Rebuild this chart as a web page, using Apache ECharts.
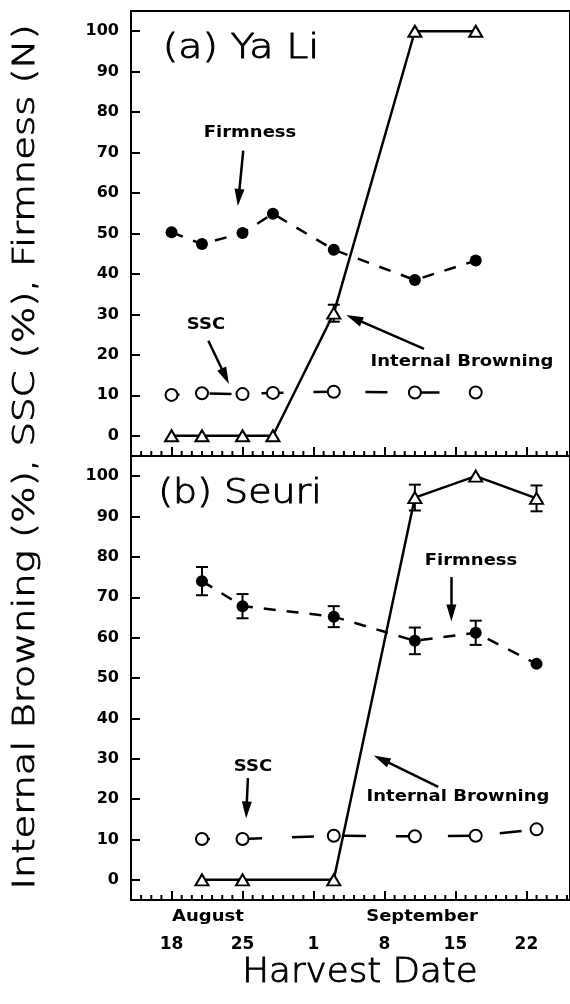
<!DOCTYPE html>
<html>
<head>
<meta charset="utf-8">
<script src="https://cdn.jsdelivr.net/npm/echarts@6/dist/echarts.min.js"></script>
<style>
    html, body { margin: 0; padding: 0; background: #fff; }
    #chart { width: 570px; height: 1004px; }
</style>
</head>
<body>
<div id="chart"></div>
<script>
    // days counted from August 18
    var tickDays = [0, 7, 14, 21, 28, 35];
    var tickLabels = ['18', '25', '1', '8', '15', '22'];
    var yTicks = [0, 10, 20, 30, 40, 50, 60, 70, 80, 90, 100];

    // (a) Ya Li
    var daysA = [0, 3, 7, 10, 16, 24, 30];
    var firmA = [50.3, 47.4, 50.1, 54.9, 46.0, 38.5, 43.3];
    var sscA = [10.1, 10.5, 10.3, 10.6, 10.9, 10.7, 10.7];
    var ibA = [0, 0, 0, 0, 30.3, 100, 100];
    var ibErrA = [0, 0, 0, 0, 2.1, 0, 0];

    // (b) Seuri
    var daysB = [3, 7, 16, 24, 30, 36];
    var firmB = [74.0, 67.8, 65.2, 59.2, 61.2, 53.5];
    var firmErrB = [3.5, 3.0, 2.6, 3.3, 3.0, 0];
    var sscB = [10.1, 10.1, 10.9, 10.8, 10.9, 12.5];
    var ibB = [0, 0, 0, 94.7, 100, 94.5];
    var ibErrB = [0, 0, 0, 3.2, 0, 3.2];

    // arrows [fromDay, fromVal, toDay, toVal]
    var arrowsA = [[7.07, 70.5, 6.62, 58.9], [3.63, 23.5, 5.30, 14.7], [24.9, 21.5, 18.0, 29.0]];
    var arrowsB = [[27.6, 75.0, 27.6, 66.1], [7.53, 25.2, 7.39, 17.3], [26.3, 23.0, 20.7, 29.9]];

    var minorDays = [];
    for (var d = -3; d <= 39; d++) if (tickDays.indexOf(d) < 0) minorDays.push(d);

    var BOLD = 'bold 15px "DejaVu Sans"';
    var LIGHT = '300 33px "DejaVu Sans"';
    var Y_MIN = -5, Y_MAX = 105;

    function pairs(xs, ys) {
        return xs.map(function (x, i) { return [x, ys[i]]; });
    }
    function errs(xs, ys, es) {
        var out = [];
        xs.forEach(function (x, i) { if (es[i] > 0) out.push([x, ys[i], es[i]]); });
        return out;
    }
    function arrowLines(list) {
        return list.map(function (a) {
            return [{ coord: [a[0], a[1]] }, { coord: [a[2], a[3]] }];
        });
    }

    function xAxis(grid, labels) {
        return {
            type: 'value', gridIndex: grid, position: 'bottom', min: -4, max: 39.3,
            axisLine: { onZero: false, lineStyle: { color: '#000', width: 2 } },
            axisTick: { inside: true, length: 9, customValues: tickDays, lineStyle: { color: '#000', width: 2 } },
            axisLabel: {
                show: labels, customValues: tickDays, margin: 36,
                color: '#000', fontFamily: 'DejaVu Sans', fontWeight: 'bold', fontSize: 17,
                formatter: function (v) { return tickLabels[tickDays.indexOf(v)]; }
            },
            splitLine: { show: false }
        };
    }

    function yAxis(grid) {
        return {
            type: 'value', gridIndex: grid, min: Y_MIN, max: Y_MAX,
            axisLine: { onZero: false, lineStyle: { color: '#000', width: 2 } },
            axisTick: { inside: true, length: 9, customValues: yTicks, lineStyle: { color: '#000', width: 2 } },
            axisLabel: {
                customValues: yTicks, margin: 12, color: '#000',
                fontFamily: 'DejaVu Sans', fontWeight: 'bold', fontSize: 16
            },
            splitLine: { show: false }
        };
    }

    // daily minor ticks on the date axis
    function minorTickSeries(idx) {
        return {
            type: 'custom', xAxisIndex: idx, yAxisIndex: idx, z: 5, silent: true,
            data: minorDays.map(function (d) { return [d, Y_MIN]; }),
            encode: { x: 0, y: 1 },
            renderItem: function (params, api) {
                var p = api.coord([api.value(0), Y_MIN]);
                return {
                    type: 'line', shape: { x1: p[0], y1: p[1], x2: p[0], y2: p[1] - 5 },
                    style: { stroke: '#000', lineWidth: 2 }
                };
            }
        };
    }

    function errorSeries(idx, data) {
        return {
            type: 'custom', xAxisIndex: idx, yAxisIndex: idx, z: 1, silent: true,
            data: data,
            encode: { x: 0, y: 1 },
            renderItem: function (params, api) {
                var x = api.value(0), y = api.value(1), e = api.value(2);
                var t = api.coord([x, y + e]), b = api.coord([x, y - e]);
                var w = 6, st = { stroke: '#000', lineWidth: 2 };
                return {
                    type: 'group', children: [
                        { type: 'line', shape: { x1: t[0], y1: t[1], x2: b[0], y2: b[1] }, style: st },
                        { type: 'line', shape: { x1: t[0] - w, y1: t[1], x2: t[0] + w, y2: t[1] }, style: st },
                        { type: 'line', shape: { x1: b[0] - w, y1: b[1], x2: b[0] + w, y2: b[1] }, style: st }
                    ]
                };
            }
        };
    }

    function firmSeries(idx, data) {
        return {
            type: 'line', xAxisIndex: idx, yAxisIndex: idx, data: data, z: 3,
            symbol: 'circle', symbolSize: 12,
            itemStyle: { color: '#000' },
            lineStyle: { color: '#000', width: 2.5, type: [12, 11] }
        };
    }
    function sscSeries(idx, data) {
        return {
            type: 'line', xAxisIndex: idx, yAxisIndex: idx, data: data, z: 3,
            symbol: 'circle', symbolSize: 12,
            itemStyle: { color: '#fff', borderColor: '#000', borderWidth: 2 },
            lineStyle: { color: '#000', width: 2.5, type: [22, 30], dashOffset: 14 }
        };
    }
    function ibSeries(idx, data, arrows) {
        return {
            type: 'line', xAxisIndex: idx, yAxisIndex: idx, data: data, z: 4,
            symbol: 'triangle', symbolSize: [13, 11],
            itemStyle: { color: '#fff', borderColor: '#000', borderWidth: 2 },
            lineStyle: { color: '#000', width: 2.5 },
            markLine: {
                silent: true, symbol: ['none', 'triangle'], symbolSize: [10, 17],
                label: { show: false },
                lineStyle: { color: '#000', width: 2.5, type: 'solid' },
                itemStyle: { color: '#000' },
                data: arrowLines(arrows)
            }
        };
    }

    function txt(x, y, text, font, sx, thick) {
        var st = { text: text, font: font, fill: '#000', textAlign: 'center', textVerticalAlign: 'middle' };
        if (thick) { st.stroke = '#000'; st.lineWidth = thick; }
        return { type: 'text', x: x, y: y, scaleX: sx || 1, silent: true, style: st };
    }

    var chart = echarts.init(document.getElementById('chart'));
    chart.setOption({
        animation: false,
        grid: [
            { left: 131, top: 11, right: -2, height: 445, show: true, borderColor: '#000', borderWidth: 2 },
            { left: 131, top: 456, right: -2, height: 444, show: true, borderColor: '#000', borderWidth: 2 }
        ],
        xAxis: [xAxis(0, false), xAxis(1, true)],
        yAxis: [yAxis(0), yAxis(1)],
        series: [
            minorTickSeries(0),
            errorSeries(0, errs(daysA, ibA, ibErrA)),
            firmSeries(0, pairs(daysA, firmA)),
            sscSeries(0, pairs(daysA, sscA)),
            ibSeries(0, pairs(daysA, ibA), arrowsA),
            minorTickSeries(1),
            errorSeries(1, errs(daysB, firmB, firmErrB)),
            errorSeries(1, errs(daysB, ibB, ibErrB)),
            firmSeries(1, pairs(daysB, firmB)),
            sscSeries(1, pairs(daysB, sscB)),
            ibSeries(1, pairs(daysB, ibB), arrowsB)
        ],
        graphic: [
            txt(241, 49, '(a) Ya Li', LIGHT, 1.2, 0.9),
            txt(240, 494, '(b) Seuri', LIGHT, 1.15, 0.9),
            txt(250, 133, 'Firmness', BOLD, 1.2),
            txt(206, 325, 'SSC', BOLD, 1.2),
            txt(462, 362, 'Internal Browning', BOLD, 1.2),
            txt(471, 561, 'Firmness', BOLD, 1.2),
            txt(253, 767, 'SSC', BOLD, 1.2),
            txt(458, 797, 'Internal Browning', BOLD, 1.2),
            txt(208, 917, 'August', BOLD, 1.2),
            txt(422, 917, 'September', BOLD, 1.2),
            txt(360, 973, 'Harvest Date', LIGHT, 1.08, 0.9),
            {
                type: 'text', x: 26, y: 457, rotation: Math.PI / 2, scaleX: 1.245, silent: true,
                style: {
                    text: 'Internal Browning (%), SSC (%), Firmness (N)', font: '300 31px "DejaVu Sans"',
                    fill: '#000', stroke: '#000', lineWidth: 0.9, textAlign: 'center', textVerticalAlign: 'middle'
                }
            }
        ]
    });
</script>
</body>
</html>
